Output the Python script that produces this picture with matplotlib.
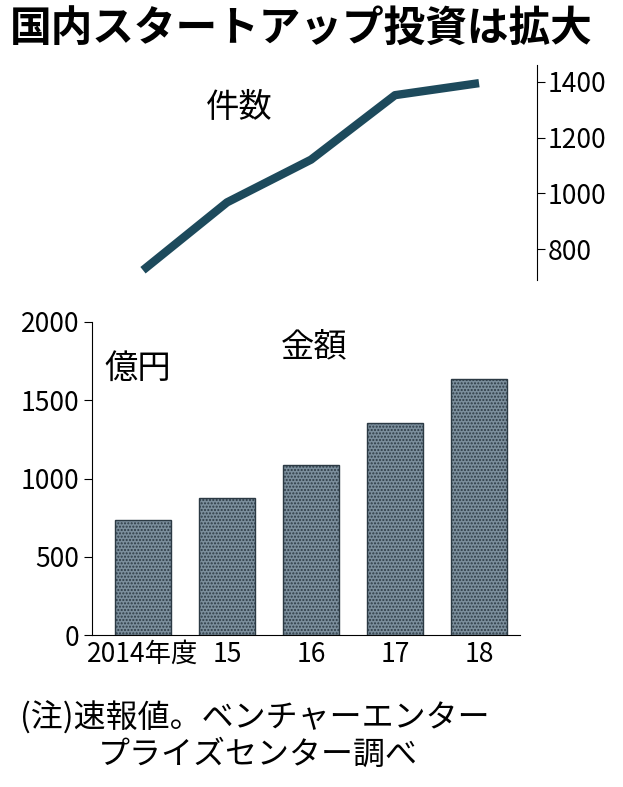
import numpy as np
import matplotlib.pyplot as plt

plt.rcParams['font.family'] = ['Noto Sans CJK JP', 'DejaVu Sans']

years = ['2014年度', '15', '16', '17', '18']
deals = [725, 968, 1121, 1352, 1395]        # 件数
amounts = [735, 875, 1086, 1355, 1636]      # 金額（億円）

W, H = 623, 787
fig = plt.figure(figsize=(W / 100, H / 100), dpi=100)

def box(l, r, t, b):
    return [l / W, 1 - b / H, (r - l) / W, (b - t) / H]

x = np.arange(len(years))

# ── top: line ──
ax1 = fig.add_axes(box(92, 537, 65, 280))
ax1.plot(x, deals, color='#1d4a5c', lw=6, solid_capstyle='butt')
ax1.set_xlim(-0.607, 4.69)
ax1.set_ylim(690, 1460)
ax1.set_yticks([800, 1000, 1200, 1400])
ax1.yaxis.tick_right()
for s in ['left', 'top', 'bottom']:
    ax1.spines[s].set_visible(False)
ax1.set_xticks([])
ax1.tick_params(axis='y', labelsize=19, length=6, pad=2)
ax1.text(0.33, 0.76, '件数', transform=ax1.transAxes, fontsize=24, ha='center')

# ── bottom: bars ──
ax2 = fig.add_axes(box(92, 520, 322, 635))
ax2.bar(x, amounts, width=0.66, facecolor='#7b8e9c', edgecolor='#2c3a44',
        hatch='.....', lw=1)
ax2.set_xlim(-0.607, 4.488)
ax2.set_ylim(0, 2000)
ax2.set_yticks([0, 500, 1000, 1500, 2000])
ax2.set_xticks(x)
ax2.set_xticklabels(years)
ax2.spines['top'].set_visible(False)
ax2.spines['right'].set_visible(False)
ax2.tick_params(axis='y', labelsize=19, length=6, pad=3)
ax2.tick_params(axis='x', labelsize=19, length=0, pad=4)
ax2.text(0.03, 0.82, '億円', transform=ax2.transAxes, fontsize=24)
ax2.text(0.52, 0.89, '金額', transform=ax2.transAxes, fontsize=24, ha='center')

fig.text(10 / W, 1 - 30 / H, '国内スタートアップ投資は拡大', fontsize=30,
         fontweight='bold', va='center')
fig.text(20 / W, 1 - 718 / H, '(注)速報値。ベンチャーエンター', fontsize=23, va='center')
fig.text(98 / W, 1 - 755 / H, 'プライズセンター調べ', fontsize=23, va='center')

fig.savefig('out.png', dpi=100)
